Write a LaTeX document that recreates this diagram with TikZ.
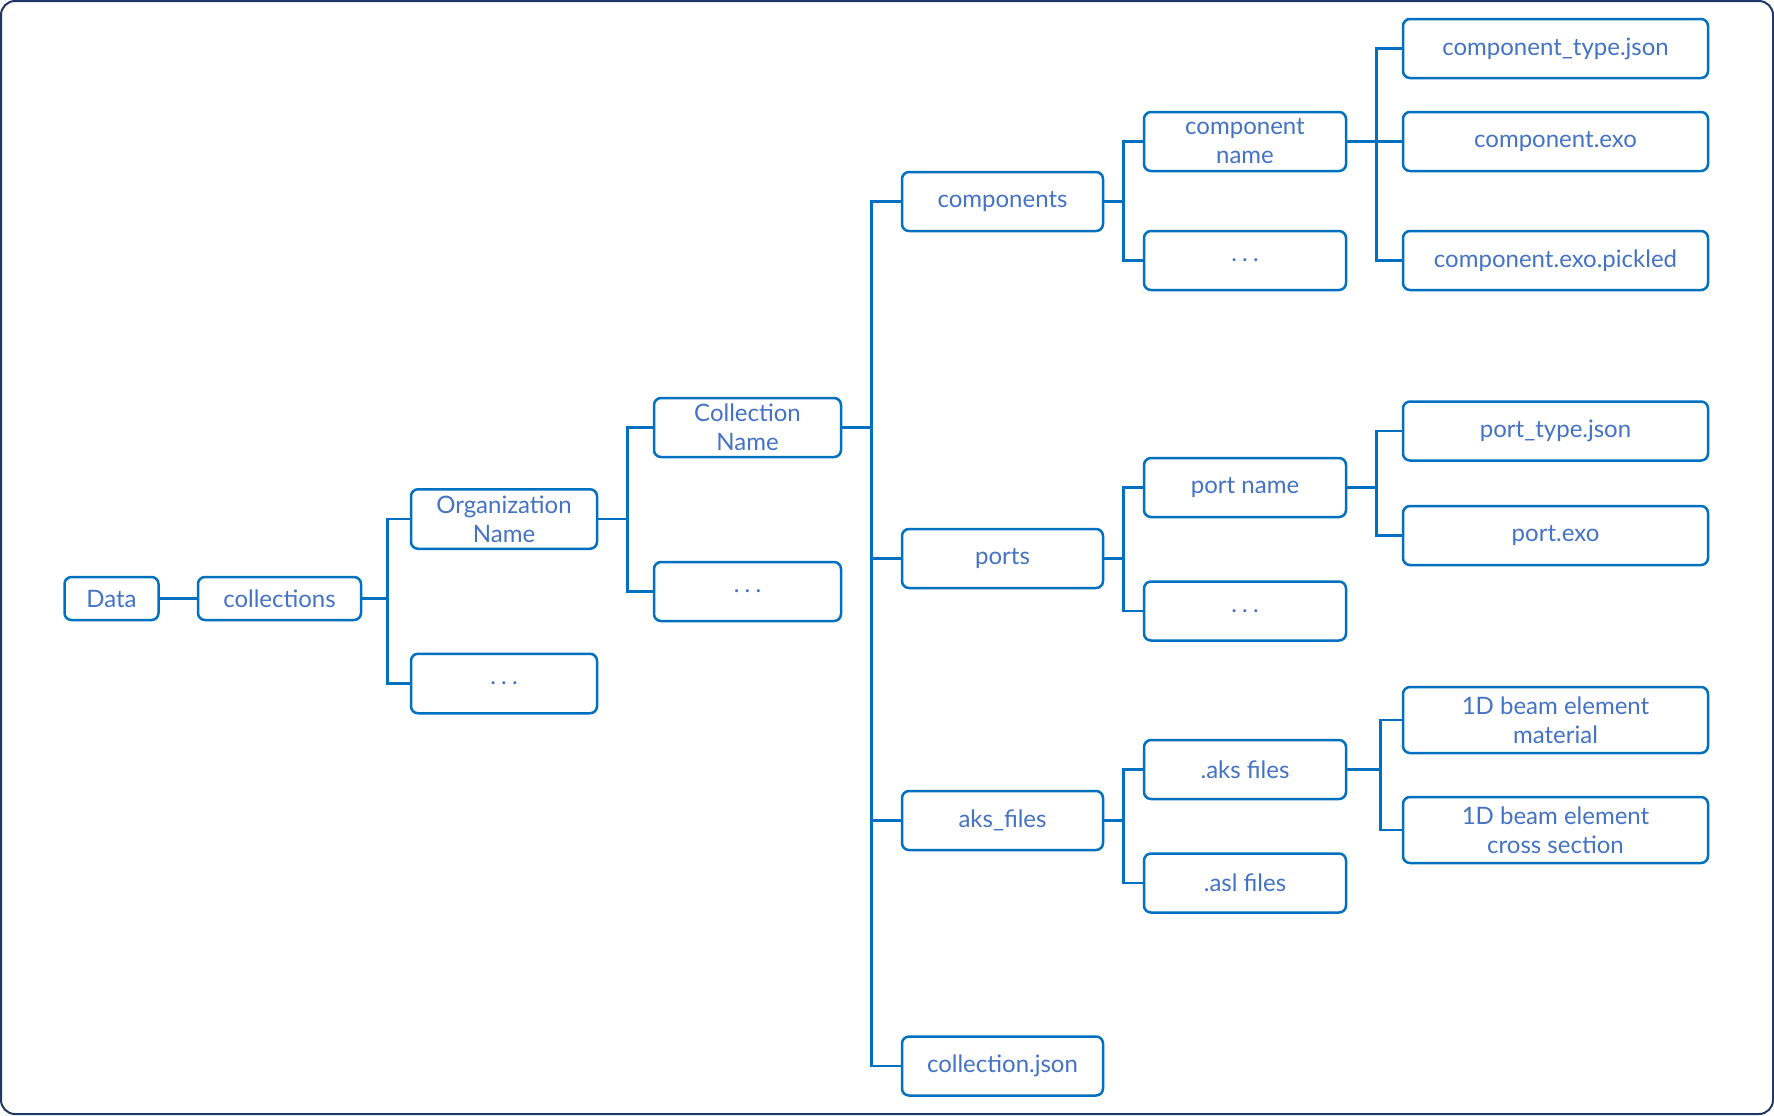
\documentclass[tikz,border=0pt]{standalone}
\usepackage{fontspec}
\setmainfont{Lato}
\definecolor{boxblue}{HTML}{0070C0}
\definecolor{txtblue}{HTML}{4472C4}
\definecolor{frame}{HTML}{1F3864}
\newcommand{\dotsx}{.\hspace{2.6pt}.\hspace{2.6pt}.}
\begin{document}
\begin{tikzpicture}[x=0.5pt,y=-0.5pt,
  box/.style={draw=boxblue, line width=1.25pt, rounded corners=3.5pt, text=txtblue,
    inner sep=0pt, align=center, font=\fontsize{12}{14.5}\selectfont},
  wA/.style={minimum width=47pt, minimum height=21.5pt},
  wB/.style={minimum width=81.5pt, minimum height=21.5pt},
  wC/.style={minimum width=93pt, minimum height=29.75pt},
  wD/.style={minimum width=93.5pt, minimum height=29.5pt},
  wE/.style={minimum width=100.5pt, minimum height=29.5pt},
  wF/.style={minimum width=101pt, minimum height=29.5pt},
  wG/.style={minimum width=152.5pt, minimum height=29.5pt},
  wH/.style={minimum width=152.5pt, minimum height=33pt},
  link/.style={draw=boxblue, line width=1.25pt}]
\draw[frame, line width=1pt, rounded corners=7pt, fill=white] (1,1) rectangle (1773,1114);
\useasboundingbox (0,0) rectangle (1774,1115);
% level 0-1
\node[box,wA] (data) at (111.5,598.5) {Data};
\node[box,wB] (coll) at (279.5,598.5) {collections};
% level 2
\node[box,wC] (org) at (504,519) {Organization\\Name};
\node[box,wC] (orgd) at (504,683.5) {\dotsx};
% level 3
\node[box,wD] (cname) at (747.5,427.5) {Collection\\Name};
\node[box,wD] (cnamed) at (747.5,591.5) {\dotsx};
% level 4
\node[box,wE] (comps) at (1002.5,201.5) {components};
\node[box,wE] (ports) at (1002.5,558.5) {ports};
\node[box,wE] (aks) at (1002.5,820.5) {aks\_files};
\node[box,wE] (cjson) at (1002.5,1066) {collection.json};
% level 5
\node[box,wF] (compn) at (1245,141.5) {component\\name};
\node[box,wF] (compd) at (1245,260.5) {\dotsx};
\node[box,wF] (portn) at (1245,487.5) {port name};
\node[box,wF] (portd) at (1245,611) {\dotsx};
\node[box,wF] (aksf) at (1245,769.5) {.aks files};
\node[box,wF] (aslf) at (1245,883) {.asl files};
% level 6
\node[box,wG] (ctj) at (1555.5,48.5) {component\_type.json};
\node[box,wG] (cexo) at (1555.5,141.5) {component.exo};
\node[box,wG] (cpk) at (1555.5,260.5) {component.exo.pickled};
\node[box,wG] (ptj) at (1555.5,431) {port\_type.json};
\node[box,wG] (pexo) at (1555.5,535.5) {port.exo};
\node[box,wH] (mat) at (1555.5,720) {1D beam element\\material};
\node[box,wH] (cross) at (1555.5,830) {1D beam element\\cross section};
% connectors
\draw[link] (data) -- (coll);
\foreach \c in {org,orgd} \draw[link] (coll.east) -- ++(12.5pt,0) |- (\c.west);
\foreach \c in {cname,cnamed} \draw[link] (org.east) -- ++(14.5pt,0) |- (\c.west);
\foreach \c in {comps,ports,aks,cjson} \draw[link] (cname.east) -- ++(14.5pt,0) |- (\c.west);
\foreach \c in {compn,compd} \draw[link] (comps.east) -- ++(9.5pt,0) |- (\c.west);
\foreach \c in {portn,portd} \draw[link] (ports.east) -- ++(9.5pt,0) |- (\c.west);
\foreach \c in {aksf,aslf} \draw[link] (aks.east) -- ++(9.5pt,0) |- (\c.west);
\foreach \c in {ctj,cexo,cpk} \draw[link] (compn.east) -- ++(14.5pt,0) |- (\c.west);
\foreach \c in {ptj,pexo} \draw[link] (portn.east) -- ++(14.5pt,0) |- (\c.west);
\foreach \c in {mat,cross} \draw[link] (aksf.east) -- ++(16.5pt,0) |- (\c.west);
\end{tikzpicture}
\end{document}
